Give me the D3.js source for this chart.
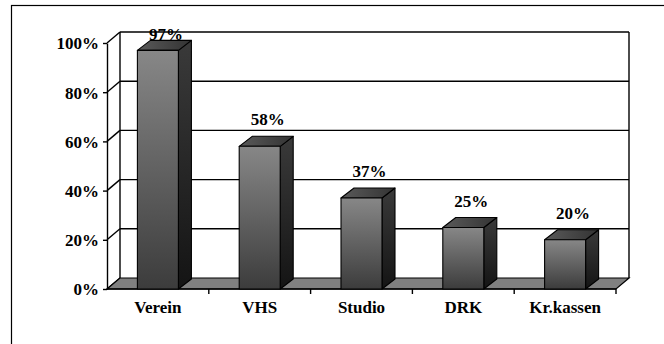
<!DOCTYPE html>
<html><head><meta charset="utf-8">
<script src="https://cdn.jsdelivr.net/npm/d3@7"></script>
<style>
html,body{margin:0;padding:0;background:#fff;}
svg{display:block;}
text{font-family:"Liberation Serif","Times New Roman",serif;font-weight:bold;font-size:17px;fill:#000;}
</style></head>
<body>
<svg id="chart" width="664" height="344"></svg>
<script>
const categories = ["Verein", "VHS", "Studio", "DRK", "Kr.kassen"];
const values = [97, 58, 37, 25, 20];
const yTicks = [0, 20, 40, 60, 80, 100];

const svg = d3.select("#chart");
const X0 = 107, X1 = 616, Y0 = 289, Y1 = 43;
const DX = 13, DY = 11;   // wall depth
const BDX = 13, BDY = 10; // bar depth

const x = d3.scaleBand().domain(categories).range([X0, X1]).padding(0);
const y = d3.scaleLinear().domain([0, 100]).range([Y0, Y1]);
const barW = 41;

// gradients
const defs = svg.append("defs");
function grad(id, c0, c1, vertical) {
  const g = defs.append("linearGradient").attr("id", id)
    .attr("x1", 0).attr("y1", 0).attr("x2", vertical ? 0 : 1).attr("y2", vertical ? 1 : 0);
  g.append("stop").attr("offset", "0%").attr("stop-color", c0);
  g.append("stop").attr("offset", "100%").attr("stop-color", c1);
}
grad("gFront", "#878787", "#3c3c3c", true);
grad("gSide", "#3a3a3a", "#141414", true);
grad("gTop", "#5a5a5a", "#333333", false);

// outer frame
svg.append("rect").attr("x", 11.5).attr("y", 5.5).attr("width", 700).attr("height", 400)
  .attr("fill", "none").attr("stroke", "#000").attr("stroke-width", 1.2);

// back wall gridlines
const gl = svg.append("g").attr("stroke", "#000").attr("stroke-width", 1.4).attr("fill", "none");
yTicks.filter(d => d > 0).forEach(d => {
  gl.append("line").attr("x1", X0 + DX).attr("x2", X1 + DX).attr("y1", y(d) - DY).attr("y2", y(d) - DY);
});
// wall edges
gl.append("line").attr("x1", X0 + DX).attr("x2", X0 + DX).attr("y1", y(100) - DY).attr("y2", Y0 - DY);
gl.append("line").attr("x1", X1 + DX).attr("x2", X1 + DX).attr("y1", y(100) - DY).attr("y2", Y0 - DY);
// left wall diagonals
yTicks.forEach(d => {
  gl.append("line").attr("x1", X0).attr("x2", X0 + DX).attr("y1", y(d)).attr("y2", y(d) - DY);
});

// floor
svg.append("polygon")
  .attr("points", [[X0, Y0], [X1, Y0], [X1 + DX, Y0 - DY], [X0 + DX, Y0 - DY]].map(p => p.join(",")).join(" "))
  .attr("fill", "#808080").attr("stroke", "#000").attr("stroke-width", 1.2);

// y axis
const yAxis = d3.axisLeft(y).tickValues(yTicks).tickFormat(d => d + "%").tickSize(4).tickSizeOuter(0).tickPadding(4);
const ya = svg.append("g").attr("transform", `translate(${X0},0)`).call(yAxis);
ya.select(".domain").attr("stroke", "#000").attr("stroke-width", 1.4);
ya.selectAll(".tick line").attr("stroke", "#000").attr("stroke-width", 1.4);
ya.selectAll("text").attr("font-family", null).attr("font-size", null).attr("dy", "0.35em");

// category axis
const xAxis = d3.axisBottom(x).tickSize(0).tickPadding(12);
const xa = svg.append("g").attr("transform", `translate(0,${Y0})`).call(xAxis);
xa.select(".domain").remove();
xa.selectAll("text").attr("font-family", null).attr("font-size", null);
svg.append("line").attr("x1", X0).attr("x2", X1).attr("y1", Y0).attr("y2", Y0).attr("stroke", "#000").attr("stroke-width", 1.4);
categories.forEach(c => {
  const bx = x(c) + x.bandwidth();
  svg.append("line").attr("x1", bx).attr("x2", bx).attr("y1", Y0).attr("y2", Y0 + 5)
    .attr("stroke", "#000").attr("stroke-width", 1.4);
});

// bars
const bars = svg.append("g").attr("stroke", "#000").attr("stroke-width", 1.1).attr("stroke-linejoin", "round");
categories.forEach((c, i) => {
  const xc = x(c) + x.bandwidth() / 2;
  const bx0 = xc - barW / 2, bx1 = xc + barW / 2;
  const yt = y(values[i]);
  const g = bars.append("g");
  g.append("polygon")
    .attr("points", [[bx1, yt], [bx1 + BDX, yt - BDY], [bx1 + BDX, Y0 - BDY], [bx1, Y0]].map(p => p.join(",")).join(" "))
    .attr("fill", "url(#gSide)");
  g.append("polygon")
    .attr("points", [[bx0, yt], [bx0 + BDX, yt - BDY], [bx1 + BDX, yt - BDY], [bx1, yt]].map(p => p.join(",")).join(" "))
    .attr("fill", "url(#gTop)");
  g.append("rect").attr("x", bx0).attr("y", yt).attr("width", barW).attr("height", Y0 - yt)
    .attr("fill", "url(#gFront)");
});

// value labels
categories.forEach((c, i) => {
  const xc = x(c) + x.bandwidth() / 2;
  const ly = Math.max(40, y(values[i]) - BDY - 11);
  svg.append("text").attr("x", xc + 8).attr("y", ly).attr("text-anchor", "middle").text(values[i] + "%");
});
</script>
</body></html>
